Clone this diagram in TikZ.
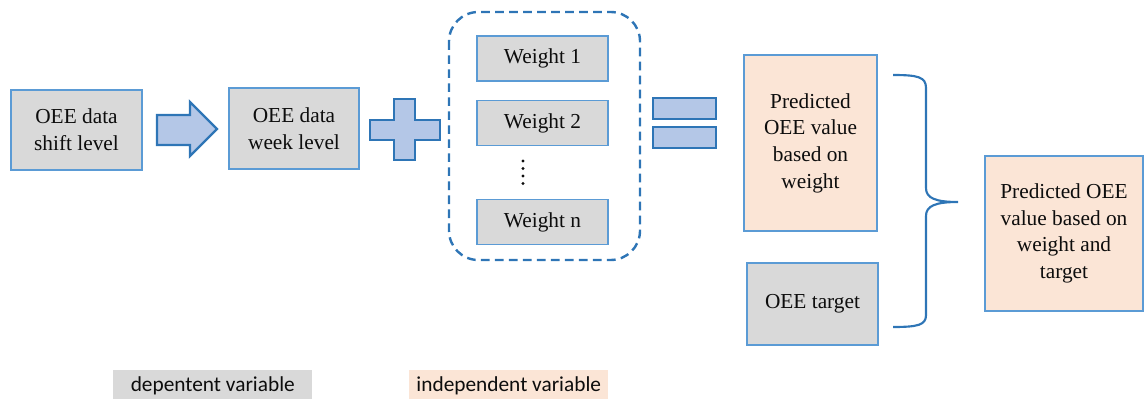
\documentclass[tikz,border=0pt]{standalone}
\usepackage{fontspec}
\setmainfont{Liberation Serif}
\newfontfamily\serifmain{Liberation Serif}
\newfontfamily\legendfont{Carlito}
\definecolor{boxgray}{HTML}{D9D9D9}
\definecolor{boxorange}{HTML}{FBE5D6}
\definecolor{boxline}{HTML}{5B9BD5}
\definecolor{darkblue}{HTML}{2E75B6}
\definecolor{shapefill}{HTML}{B4C7E7}
\definecolor{txt}{HTML}{0D0D0D}
\begin{document}
\begin{tikzpicture}[x=0.75pt,y=-0.75pt,
  box/.style={draw=boxline, line width=0.8pt, align=center, inner sep=0pt,
    font=\serifmain\fontsize{16}{20}\selectfont, text=txt},
  graybox/.style={box, fill=boxgray},
  orangebox/.style={box, fill=boxorange},
  symbolshape/.style={draw=darkblue, fill=shapefill, line width=1.8pt, line join=miter},
  legendbox/.style={inner sep=0pt, font=\legendfont\fontsize{16}{19}\selectfont, text=txt}
]
\useasboundingbox (0,0) rectangle (1145,399);

% main boxes
\node[graybox, minimum width=98.25pt, minimum height=60pt] (shift) at (76.5,130) {OEE data\\shift level};
\node[graybox, minimum width=97.5pt, minimum height=60.75pt] (week) at (294,128.5) {OEE data\\week level};

% arrow
\draw[symbolshape] (157,115) -- (190,115) -- (190,102) -- (217,129) -- (190,156) -- (190,145) -- (157,145) -- cycle;

% plus
\draw[symbolshape] (394,99) -- (415,99) -- (415,120) -- (440,120) -- (440,140) -- (415,140) -- (415,160) -- (394,160) -- (394,140) -- (370,140) -- (370,120) -- (394,120) -- cycle;

% dashed group
\draw[darkblue, line width=1.8pt, dash pattern=on 6.5pt off 4pt, rounded corners=22pt] (449,12) rectangle (640,260);
\node[graybox, minimum width=98.25pt, minimum height=33.75pt] (w1) at (542.5,58.5) {Weight 1};
\node[graybox, minimum width=98.25pt, minimum height=33.75pt] (w2) at (542.5,123) {Weight 2};
\node[graybox, minimum width=98.25pt, minimum height=33.75pt] (wn) at (542.5,222) {Weight n};
\foreach \yy in {161,168.5,176,183.5}
  \fill[txt] (523,\yy) circle (1.3pt);

% equals
\draw[symbolshape] (653,98) rectangle (716,119);
\draw[symbolshape] (653,127) rectangle (716,148);

% right side
\node[orangebox, minimum width=99.75pt, minimum height=132pt] (pred) at (810.5,143) {Predicted\\OEE value\\based on\\weight};
\node[graybox, minimum width=98.25pt, minimum height=61.5pt] (target) at (812.5,304) {OEE target};
\node[orangebox, minimum width=118.5pt, minimum height=116.25pt] (final) at (1064,233.5) {Predicted OEE\\value based on\\weight and\\target};

% brace
\draw[darkblue, line width=1.6pt] (893,75) .. controls (918,75) and (926,77) .. (926,88) -- (926,188)
  .. controls (926,198) and (935,202) .. (958,202)
  .. controls (935,202) and (926,206) .. (926,216) -- (926,315)
  .. controls (926,325) and (918,327) .. (893,327);

% legend
\node[legendbox, fill=boxgray, minimum width=149.25pt, minimum height=23pt, anchor=north west] (dep) at (113,370) {depentent variable};
\node[legendbox, fill=boxorange, minimum width=149.25pt, minimum height=23pt, anchor=north west] (indep) at (409,370) {independent variable};
\end{tikzpicture}
\end{document}
